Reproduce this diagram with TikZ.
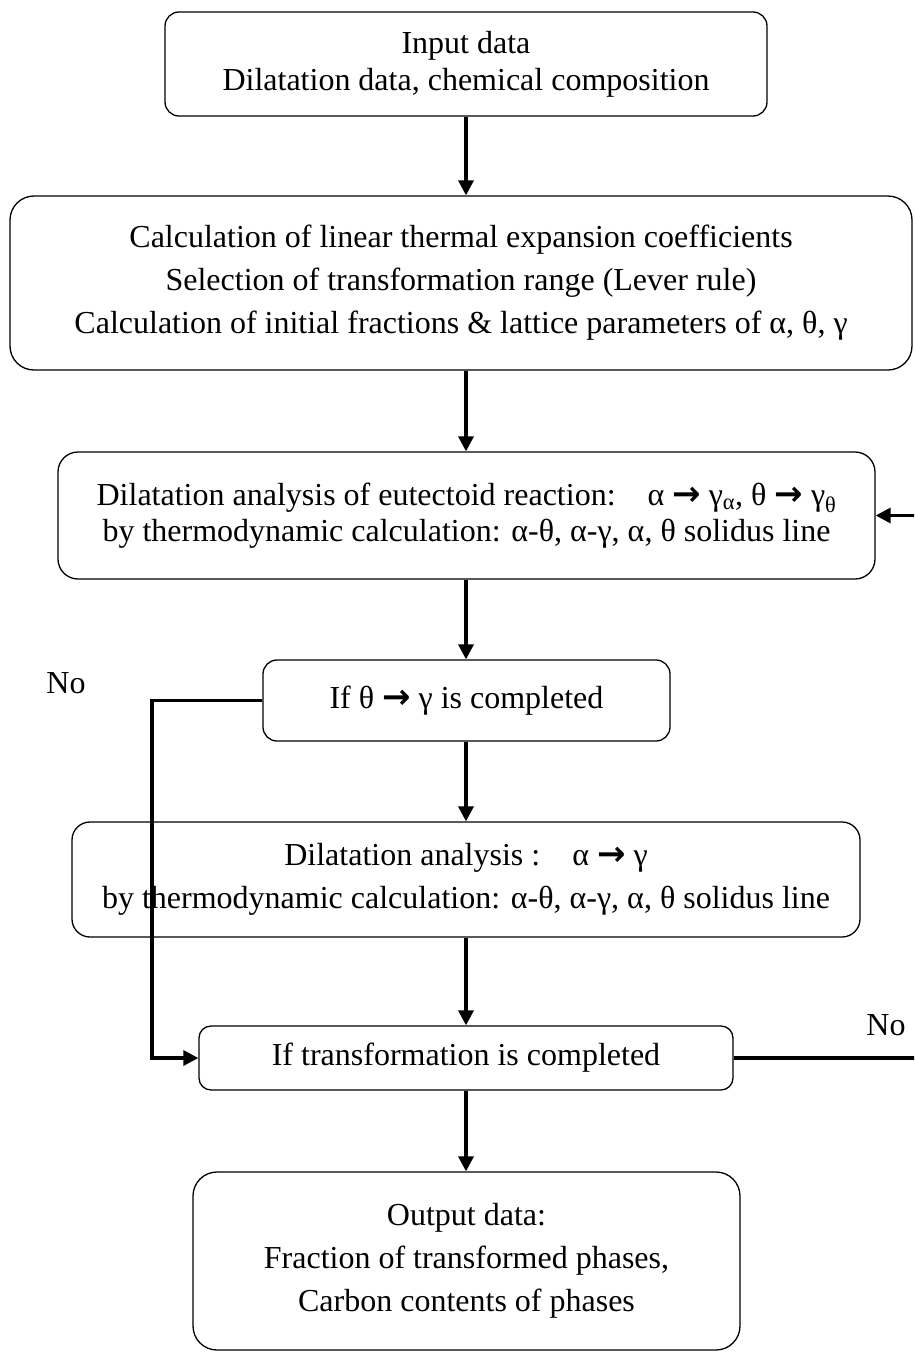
\documentclass[tikz,border=0pt]{standalone}
\usepackage{fontspec}
\setmainfont{Liberation Serif}
\newfontfamily\arrowfont{DejaVu Sans}
\usetikzlibrary{arrows.meta}
% bold arrow used inside the box texts
\newcommand{\rarr}{{\arrowfont\bfseries\fontsize{34}{34}\selectfont →}}
\begin{document}
\begin{tikzpicture}[x=1pt,y=-1pt,line cap=butt,line join=miter,>={Triangle[length=15pt,width=15pt]}]
\tikzset{box/.style={draw,line width=1.3pt,rounded corners=14pt,align=center,
  inner sep=0pt,font=\fontsize{32}{43}\selectfont},
  link/.style={line width=3.3pt},
  lbl/.style={font=\fontsize{32}{38}\selectfont}
}
\clip (0,0) rectangle (914,1352);
\useasboundingbox (0,0) rectangle (914,1352);
% boxes
\node[box,minimum width=602,minimum height=104,font=\fontsize{32}{37}\selectfont] (in) at (466,64)
  {Input data\\Dilatation data, chemical composition};
\node[box,minimum width=902,minimum height=174,rounded corners=24pt] (calc) at (461,283)
  {Calculation of linear thermal expansion coefficients\\
   Selection of transformation range (Lever rule)\\
   Calculation of initial fractions \& lattice parameters of α, θ, γ};
\node[box,minimum width=817,minimum height=127,rounded corners=20pt,font=\fontsize{32}{36}\selectfont] (eut) at (466.5,515.5)
  {Dilatation analysis of eutectoid reaction:\quad α \rarr\ γ\textsubscript{α}, θ \rarr\ γ\textsubscript{θ}\\
   by thermodynamic calculation: α-θ, α-γ, α, θ solidus line};
\node[box,minimum width=407,minimum height=81] (ifa) at (466.5,700.5)
  {If θ \rarr\ γ is completed};
\node[box,minimum width=788,minimum height=115,rounded corners=18pt] (dil) at (466,879.5)
  {Dilatation analysis :\quad α \rarr\ γ\\
   by thermodynamic calculation: α-θ, α-γ, α, θ solidus line};
\node[box,minimum width=534,minimum height=64,rounded corners=12pt] (ifb) at (466,1058)
  {If transformation is completed};
\node[box,minimum width=547,minimum height=178,rounded corners=24pt] (out) at (466.5,1261)
  {Output data:\\Fraction of transformed phases,\\Carbon contents of phases};
% labels
\node[lbl] (noa) at (66,683) {No};
\node[lbl] (nob) at (886,1025) {No};
% connectors
\coordinate (lft) at (152,0);
\coordinate (rgt) at (940,0);
\draw[link,->] (in.south) -- (in.south |- calc.north);
\draw[link,->] (in.south |- calc.south) -- (in.south |- eut.north);
\draw[link,->] (in.south |- eut.south) -- (in.south |- ifa.north);
\draw[link,->] (in.south |- ifa.south) -- (in.south |- dil.north);
\draw[link,->] (in.south |- dil.south) -- (in.south |- ifb.north);
\draw[link,->] (in.south |- ifb.south) -- (in.south |- out.north);
\draw[link,->] (ifa.west) -| (lft |- ifb.west) -- (ifb.west);
\draw[link,->] (ifb.east) -| (rgt |- eut.east) -- (eut.east);
\end{tikzpicture}
\end{document}
